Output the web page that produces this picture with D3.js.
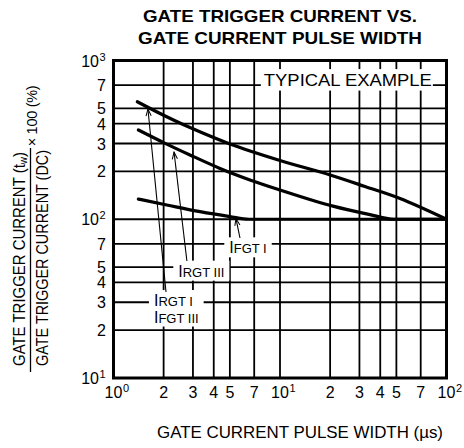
<!DOCTYPE html>
<html><head><meta charset="utf-8">
<script src="https://cdn.jsdelivr.net/npm/d3@7"></script>
<style>html,body{margin:0;padding:0;background:#fff;} svg{display:block;font-family:"Liberation Sans",Arial,Helvetica,sans-serif;}</style>
</head><body><svg id="c" width="464" height="448"></svg>
<script>
// ---- data ----
const titleLines = ["GATE TRIGGER CURRENT VS.", "GATE CURRENT PULSE WIDTH"];
const xAxisTitle = "GATE CURRENT PULSE WIDTH  (µs)";
const yTitleTop = ["GATE TRIGGER CURRENT (t", "w", ")"];
const yTitleBottom = "GATE TRIGGER CURRENT (DC)";
const yTitleFactor = "× 100 (%)";
const boxLabel = "TYPICAL EXAMPLE";

const xTickValues = [1, 2, 3, 4, 5, 7, 10, 20, 30, 40, 50, 70, 100];
const xTickLabels = ["10^0", "2", "3", "4", "5", "7", "10^1", "2", "3", "4", "5", "7", "10^2"];
const yTickValues = [10, 20, 30, 40, 50, 70, 100, 200, 300, 400, 500, 700, 1000];
const yTickLabels = ["10^1", "2", "3", "4", "5", "7", "10^2", "2", "3", "4", "5", "7", "10^3"];
const xGridValues = [2, 3, 4, 5, 7, 10, 20, 30, 40, 50, 70];
const yGridValues = [20, 30, 40, 50, 70, 100, 200, 300, 400, 500, 700];

// IRGT I / IFGT III
const pulseTop = [1.39, 2.0, 2.88, 5.0, 10, 20, 32.4, 52.6, 100];
const ratioTop = [550, 452, 378, 298, 234.5, 190, 160.8, 135.1, 100];
// IRGT III
const pulseMid = [1.41, 2.0, 2.88, 4.36, 6.6, 10, 20.8, 34.7, 48, 100];
const ratioMid = [365, 304, 254, 209, 177, 153, 121, 107, 100, 100];
// IFGT I
const pulseLow = [1.41, 2.09, 3.31, 5.0, 6.5, 100];
const ratioLow = [134, 123, 111.6, 104, 100, 100];

// annotation labels (anchor in data units) and arrows (tail -> tip, data units)
const labelTexts = [["FGT I"], ["RGT III"], ["RGT I", "FGT III"]];
const labelAnchorX = [4.96, 2.45, 1.75];
const labelAnchorY = [61, 43.5, 28.4];
const arrowTailX = [5.75, 2.76, 2.067];
const arrowTailY = [76.2, 54.6, 34.8];
const arrowTipX = [5.44, 2.31, 1.61];
const arrowTipY = [101, 265, 495];

// ---- drawing ----
const svg = d3.select("#c");
const x = d3.scaleLog().domain([1, 100]).range([113.5, 446.5]);
const y = d3.scaleLog().domain([10, 1000]).range([378, 60.5]);

// title
const titleWidths = [274, 284];
svg.append("g").selectAll("text").data(titleLines).join("text")
  .attr("x", (d, i) => 280 - titleWidths[i] / 2).attr("y", (d, i) => 22 + i * 22)
  .attr("font-weight", "bold").attr("font-size", 17)
  .attr("textLength", (d, i) => titleWidths[i]).attr("lengthAdjust", "spacingAndGlyphs")
  .text(d => d);

// grid
const g = svg.append("g");
g.selectAll("line.vx").data(xGridValues).join("line")
  .attr("x1", d => x(d)).attr("x2", d => x(d)).attr("y1", y(10)).attr("y2", y(1000))
  .attr("stroke", "#000").attr("stroke-width", 1.8);
g.selectAll("line.hy").data(yGridValues).join("line")
  .attr("y1", d => y(d)).attr("y2", d => y(d)).attr("x1", x(1)).attr("x2", x(100))
  .attr("stroke", "#000").attr("stroke-width", 1.8);

const boxLayer = svg.append("g");
const curveLayer = svg.append("g");
const textLayer = svg.append("g");

// TYPICAL EXAMPLE
const te = textLayer.append("text").attr("x", x(8.0)).attr("y", y(690))
  .attr("font-size", 17).attr("textLength", 168).attr("lengthAdjust", "spacingAndGlyphs").text(boxLabel);
{
  const b = te.node().getBBox();
  boxLayer.append("rect").attr("x", b.x - 3).attr("y", b.y - 2).attr("width", b.width + 4).attr("height", b.height + 2.5)
    .attr("fill", "#fff");
}

// annotation labels
labelTexts.forEach((lines, i) => {
  const gg = textLayer.append("g");
  lines.forEach((s, j) => {
    const t = gg.append("text").attr("x", x(labelAnchorX[i])).attr("y", y(labelAnchorY[i]) + j * 16.5);
    t.append("tspan").attr("font-size", 16).text("I");
    t.append("tspan").attr("font-size", 13).text(s);
  });
  const b = gg.node().getBBox();
  boxLayer.append("rect").attr("x", b.x - 5).attr("y", b.y - 2).attr("width", b.width + 10).attr("height", b.height + 3)
    .attr("fill", "#fff");
});

// curves
const smooth = d3.line().x(d => x(d[0])).y(d => y(d[1])).curve(d3.curveCatmullRom.alpha(0.5));
const mono = d3.line().x(d => x(d[0])).y(d => y(d[1])).curve(d3.curveMonotoneX);
[[pulseTop, ratioTop, smooth], [pulseMid, ratioMid, mono], [pulseLow, ratioLow, mono]].forEach(([px, py, gen]) => {
  curveLayer.append("path").attr("d", gen(px.map((v, i) => [v, py[i]])))
    .attr("fill", "none").attr("stroke", "#000").attr("stroke-width", 3.2).attr("stroke-linecap", "round");
});

// arrows
svg.append("defs").append("marker").attr("id", "ah").attr("viewBox", "-8 -4 9 8")
  .attr("refX", 0).attr("refY", 0).attr("markerWidth", 9).attr("markerHeight", 8)
  .attr("markerUnits", "userSpaceOnUse").attr("orient", "auto")
  .append("path").attr("d", "M-7,-2.6 L0,0 L-7,2.6").attr("fill", "none").attr("stroke", "#000").attr("stroke-width", 1);
arrowTailX.forEach((v, i) => {
  curveLayer.append("line")
    .attr("x1", x(v)).attr("y1", y(arrowTailY[i])).attr("x2", x(arrowTipX[i])).attr("y2", y(arrowTipY[i]))
    .attr("stroke", "#000").attr("stroke-width", 1.1).attr("marker-end", "url(#ah)");
});

// frame
svg.append("rect").attr("x", x(1)).attr("y", y(1000)).attr("width", x(100) - x(1)).attr("height", y(10) - y(1000))
  .attr("fill", "none").attr("stroke", "#000").attr("stroke-width", 3);

// tick labels helper
function powLabel(sel, base, exp, cx, cy, anchorMode) {
  const t = sel.append("text").attr("font-size", 16).attr("y", cy);
  t.text(base);
  const w = t.node().getComputedTextLength();
  let x0 = anchorMode === "center" ? cx - w / 2 : cx - w;
  t.attr("x", x0);
  sel.append("text").attr("font-size", 11).attr("x", x0 + w + 0.5).attr("y", cy - 6).text(exp);
}
const ty = svg.append("g");
yTickValues.forEach((v, i) => {
  const s = yTickLabels[i];
  if (s.includes("^")) {
    const [b, e] = s.split("^");
    powLabel(ty, b, e, 99, y(v) + 6, "end");
  } else {
    ty.append("text").attr("font-size", 16).attr("x", 106).attr("y", y(v) + 6)
      .attr("text-anchor", "end").text(s);
  }
});
const tx = svg.append("g");
xTickValues.forEach((v, i) => {
  const s = xTickLabels[i];
  if (s.includes("^")) {
    const [b, e] = s.split("^");
    powLabel(tx, b, e, x(v), 398, "center");
  } else {
    tx.append("text").attr("font-size", 16).attr("x", x(v)).attr("y", 398)
      .attr("text-anchor", "middle").text(s);
  }
});

// x-axis title
svg.append("text").attr("x", 157).attr("y", 438).attr("font-size", 17)
  .attr("textLength", 286).attr("lengthAdjust", "spacingAndGlyphs")
  .text(xAxisTitle);

// y-axis title (fraction)
const yt = svg.append("g");
const t1 = yt.append("text").attr("transform", "translate(25,366) rotate(-90)").attr("font-size", 16.5)
  .attr("textLength", 214).attr("lengthAdjust", "spacingAndGlyphs");
t1.append("tspan").text(yTitleTop[0]);
t1.append("tspan").attr("font-size", 11).attr("dy", 2).text(yTitleTop[1]);
t1.append("tspan").attr("dy", -2).text(yTitleTop[2]);
yt.append("text").attr("transform", "translate(47.5,366) rotate(-90)").attr("font-size", 16.5)
  .attr("textLength", 216).attr("lengthAdjust", "spacingAndGlyphs")
  .text(yTitleBottom);
yt.append("line").attr("x1", 30.5).attr("x2", 30.5).attr("y1", 148).attr("y2", 372).attr("stroke", "#000").attr("stroke-width", 1.3);
yt.append("text").attr("transform", "translate(37,116) rotate(-90)").attr("text-anchor", "middle").attr("font-size", 14.5)
  .attr("letter-spacing", -0.3).text(yTitleFactor);
</script></body></html>
